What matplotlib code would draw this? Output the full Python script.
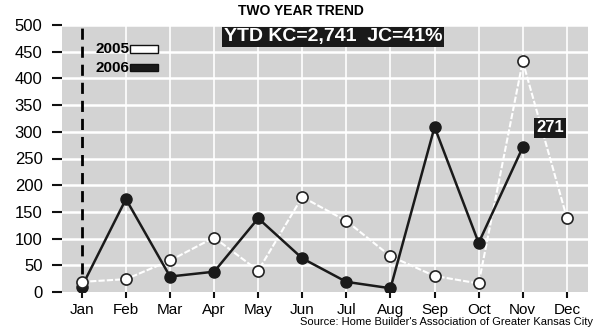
import matplotlib.pyplot as plt
from matplotlib.patches import Rectangle

months = ["Jan", "Feb", "Mar", "Apr", "May", "Jun",
          "Jul", "Aug", "Sep", "Oct", "Nov", "Dec"]
sales_2005 = [19, 24, 59, 102, 40, 178, 133, 67, 30, 16, 432, 139]
sales_2006 = [10, 174, 29, 38, 138, 63, 19, 7, 309, 92, 271]
y_ticks = [0, 50, 100, 150, 200, 250, 300, 350, 400, 450, 500]
ytd_text = "YTD KC=2,741  JC=41%"

narrow = ["Liberation Sans Narrow", "Liberation Sans", "DejaVu Sans"]
plt.rcParams["font.family"] = ["Liberation Sans", "DejaVu Sans"]

fig = plt.figure(figsize=(6.01, 3.32), dpi=100)
ax = fig.add_axes([62 / 601, 40 / 332, 526 / 601, 267 / 332])
ax.set_facecolor("#d3d3d3")

x = list(range(len(months)))
ax.set_xlim(-0.45, 11.48)
ax.set_ylim(0, 500)

# white grid on the gray panel
for yv in y_ticks[1:]:
    ax.axhline(yv, color="white", lw=1.8, zorder=1)
for xv in x[1:]:
    ax.axvline(xv, color="white", lw=1.2, zorder=1)
ax.axvline(0, color="black", lw=2, ls=(0, (4, 2.5)), zorder=2)

# 2005 = white line with open circles, 2006 = black line with filled circles
ax.plot(x, sales_2005, color="white", lw=1.5, ls=(0, (3, 1)), zorder=3)
ax.plot(x, sales_2005, ls="none", marker="o", ms=8, mfc="white",
        mec="#222222", mew=1.2, zorder=5)
x06 = x[:len(sales_2006)]
ax.plot(x06, sales_2006, color="#1a1a1a", lw=1.8, marker="o", ms=8,
        mfc="#1a1a1a", mec="#1a1a1a", zorder=4)

for s in ax.spines.values():
    s.set_visible(False)
ax.set_yticks(y_ticks)
ax.set_yticklabels([str(v) for v in y_ticks], fontsize=12)
ax.set_xticks(x)
ax.set_xticklabels(months, fontsize=11, family=narrow)
ax.tick_params(axis="y", length=7, width=1.5, pad=7, color="#111111")
ax.tick_params(axis="x", length=4, width=1.5, pad=4, color="#111111")

# title and headline box
fig.text(0.5, 1 - 11 / 332, "TWO YEAR TREND", ha="center", va="center",
         fontsize=10, fontweight="bold")
fig.text(333 / 601, 1 - 37 / 332, ytd_text, ha="center", va="center",
         fontsize=14, fontweight="bold", color="white",
         bbox=dict(boxstyle="square,pad=0.08", fc="#1a1a1a", ec="none"))

# hand-drawn legend
legend_rows = [("2005", "white", 455), ("2006", "#1a1a1a", 420)]
for label, fc, yv in legend_rows:
    ax.text(1.07, yv, label, ha="right", va="center", fontsize=11,
            family=narrow, fontweight="bold", zorder=6)
    ax.add_patch(Rectangle((1.1, yv - 7), 0.62, 14, fc=fc, ec="#111111",
                           lw=1, zorder=6))

# value label for the latest month
ax.text(10.62, sales_2006[-1] + 37, str(sales_2006[-1]), ha="center",
        va="center", fontsize=12, fontweight="bold", color="white", zorder=6,
        bbox=dict(boxstyle="square,pad=0.15", fc="#1a1a1a", ec="none"))

fig.text(593 / 601, 1 - 322 / 332,
         "Source: Home Builder's Association of Greater Kansas City",
         ha="right", va="center", fontsize=8, family=narrow)

fig.savefig("out.png", dpi=100)
